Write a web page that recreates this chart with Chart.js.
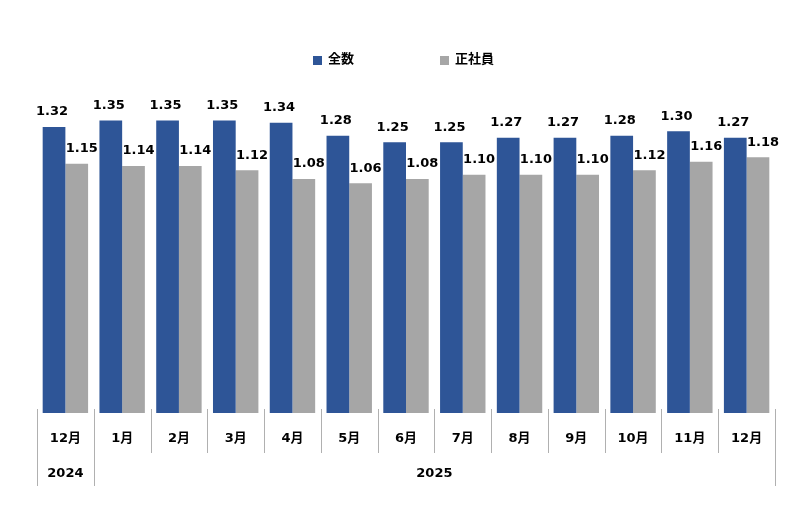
<!DOCTYPE html>
<html>
<head>
<meta charset="utf-8">
<script src="https://cdn.jsdelivr.net/npm/chart.js@4"></script>
<style>
  html, body { margin: 0; padding: 0; background: #fff; }
  #wrap { width: 800px; height: 526px; }
</style>
</head>
<body>
<div id="wrap"><canvas id="chart" width="800" height="526"></canvas></div>
<script>
const months = ["12月", "1月", "2月", "3月", "4月", "5月", "6月", "7月", "8月", "9月", "10月", "11月", "12月"];
const years = [["2024", 0, 1], ["2025", 1, 13]];
const seriesNames = ["全数", "正社員"];
const totalRatio = [1.32, 1.35, 1.35, 1.35, 1.34, 1.28, 1.25, 1.25, 1.27, 1.27, 1.28, 1.30, 1.27];
const regularRatio = [1.15, 1.14, 1.14, 1.12, 1.08, 1.06, 1.08, 1.10, 1.10, 1.10, 1.12, 1.16, 1.18];
const colors = ["#2E5597", "#A6A6A6"];

const FONT = '"DejaVu Sans", "Noto Sans CJK JP", sans-serif';

const valueLabels = {
    id: "valueLabels",
    afterDatasetsDraw(chart) {
        const ctx = chart.ctx;
        ctx.save();
        ctx.font = "bold 13px " + FONT;
        ctx.fillStyle = "#000";
        ctx.textAlign = "center";
        ctx.textBaseline = "middle";
        chart.data.datasets.forEach((ds, di) => {
            const shift = di === 0 ? -2 : 5;
            chart.getDatasetMeta(di).data.forEach((bar, i) => {
                ctx.fillText(ds.data[i].toFixed(2), bar.x + shift, bar.y - 15);
            });
        });
        ctx.restore();
    }
};

const axisFrame = {
    id: "axisFrame",
    afterDraw(chart) {
        const ctx = chart.ctx;
        const x = chart.scales.x;
        const half = (x.getPixelForValue(1) - x.getPixelForValue(0)) / 2;
        const bottom = chart.chartArea.bottom;
        const edge = i => x.getPixelForValue(i) - half;
        const yearEdges = new Set(years.flatMap(y => [y[1], y[2]]));
        ctx.save();
        ctx.strokeStyle = "#B0B0B0";
        ctx.lineWidth = 1;
        for (let i = 0; i <= months.length; i++) {
            const px = Math.round(edge(i)) + 0.5;
            ctx.beginPath();
            ctx.moveTo(px, bottom - 4);
            ctx.lineTo(px, yearEdges.has(i) ? bottom + 73 : bottom + 40);
            ctx.stroke();
        }
        ctx.font = "bold 13px " + FONT;
        ctx.fillStyle = "#000";
        ctx.textAlign = "center";
        ctx.textBaseline = "middle";
        years.forEach(([label, a, b]) => {
            ctx.fillText(label, (edge(a) + edge(b)) / 2, bottom + 61);
        });
        // legend
        ctx.textAlign = "left";
        const lx = [313, 440];
        seriesNames.forEach((name, i) => {
            ctx.fillStyle = colors[i];
            ctx.fillRect(lx[i], 56, 9, 9);
            ctx.fillStyle = "#000";
            ctx.fillText(name, lx[i] + 15, 60);
        });
        ctx.restore();
    }
};

new Chart(document.getElementById("chart"), {
    type: "bar",
    data: {
        labels: months,
        datasets: [
            { label: seriesNames[0], data: totalRatio, backgroundColor: colors[0] },
            { label: seriesNames[1], data: regularRatio, backgroundColor: colors[1] }
        ]
    },
    options: {
        responsive: false,
        animation: false,
        events: [],
        categoryPercentage: 0.8,
        barPercentage: 1.0,
        layout: { padding: { top: 88, left: 37, right: 25, bottom: 0 } },
        plugins: { legend: { display: false }, tooltip: { enabled: false } },
        scales: {
            x: {
                grid: { display: false, drawTicks: false },
                border: { display: false },
                ticks: { color: "#000", font: { family: FONT, size: 13, weight: "bold" }, padding: 18, maxRotation: 0 },
                afterFit: s => { s.height = 113; }
            },
            y: { display: false, min: 0, max: 1.5 }
        }
    },
    plugins: [valueLabels, axisFrame]
});
</script>
</body>
</html>
